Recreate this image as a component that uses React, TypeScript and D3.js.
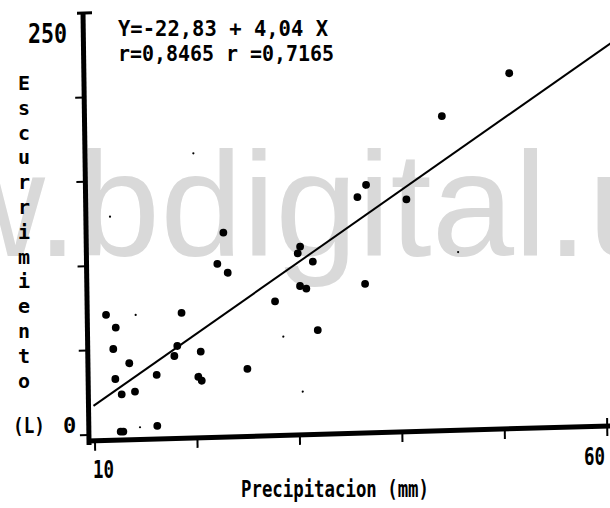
import React from "react";
import * as d3 from "d3";

// Precipitacion (mm) vs Escurrimiento (L)
const precip = [11.25, 12.18, 11.91, 13.45, 12.07, 12.67, 13.97, 16.11, 17.86, 18.16, 18.62, 20.44, 20.17, 20.5, 24.97, 27.76, 30.22, 30.83, 31.89, 36.57, 12.52, 12.78, 16.1, 22.81, 22.18, 23.18, 30.28, 30.04, 31.5, 35.94, 36.8, 40.72, 44.29, 50.92];
const runoff = [70.8, 63.1, 50.5, 41.8, 32.7, 23.5, 24.9, 34.4, 45.3, 51.2, 70.7, 47.4, 32.6, 30.2, 36.4, 75.9, 84.6, 82.9, 58.2, 84.7, 1.4, 1.4, 4.2, 117.5, 99.1, 93.7, 107.9, 104.0, 98.8, 136.3, 143.3, 134.1, 182.8, 207.0];
// faint small dots
const speckX = [19.99, 11.77, 14.14, 14.41, 28.52, 30.34, 45.69];
const speckY = [165.0, 128.9, 70.3, 3.7, 54.9, 22.0, 102.0];

const intercept = -22.83;
const slope = 4.04;
const lineRange = [9.9, 62];

const xTicks = [10, 20, 30, 40, 50, 60];
const yTicks = [0, 50, 100, 150, 200, 250];
const xTickLabels = [{ v: 10, t: "10" }, { v: 60, t: "60" }];
const equationText = "Y=-22,83 + 4,04 X";
const corrText = "r=0,8465 r =0,7165";
const yTitle = "Escurrimiento";
const yUnit = "(L)";
const xTitle = "Precipitacion (mm)";
const watermark = "w.bdigital.unal";

const FONT = "'DejaVu Sans Mono', monospace";

export default function App() {
  const x = d3.scaleLinear().domain([10, 60]).range([6, 518.2]);
  const y = d3.scaleLinear().domain([0, 250]).range([-6, -428]);
  const line = d3
    .line<number>()
    .x((d) => x(d))
    .y((d) => y(intercept + slope * d));
  const letters = yTitle.split("");
  return (
    <svg
      width={610}
      height={508}
      style={{ position: "absolute", left: 0, top: 0, background: "#fff" }}
    >
      <text
        x={-62}
        y={256}
        fontFamily="'Liberation Sans', Arial, sans-serif"
        fontSize={148}
        fill="#d9d9d9"
      >
        {watermark}
      </text>
      <g transform="translate(89,441) matrix(1,-0.029,0.014,1,0,0)">
        {/* y axis */}
        <line x1={0} y1={4} x2={0} y2={y(250)} stroke="#000" strokeWidth={5} />
        <line x1={-6} y1={y(250)} x2={9} y2={y(250)} stroke="#000" strokeWidth={3} />
        {yTicks.slice(0, -1).map((t) => (
          <line key={t} x1={-9} x2={0} y1={y(t)} y2={y(t)} stroke="#000" strokeWidth={2} />
        ))}
        {/* x axis */}
        <line x1={-2} y1={0} x2={530} y2={0} stroke="#000" strokeWidth={5} />
        {xTicks.map((t) => (
          <line
            key={t}
            x1={x(t)}
            x2={x(t)}
            y1={t === 60 ? -8 : 0}
            y2={10}
            stroke="#000"
            strokeWidth={2}
          />
        ))}
        {/* regression line */}
        <path d={line(lineRange) || ""} fill="none" stroke="#000" strokeWidth={2} />
        {/* points */}
        {precip.map((p, i) => (
          <circle key={i} cx={x(p)} cy={y(runoff[i])} r={3.9} fill="#000" />
        ))}
        {speckX.map((p, i) => (
          <circle key={"s" + i} cx={x(p)} cy={y(speckY[i])} r={1.1} fill="#000" />
        ))}
      </g>
      {/* texts */}
      <text x={28} y={43} fontFamily={FONT} fontWeight="bold" fontSize={27} textLength={39} lengthAdjust="spacingAndGlyphs">
        250
      </text>
      <text x={118} y={36} fontFamily={FONT} fontWeight="bold" fontSize={21} textLength={210} lengthAdjust="spacingAndGlyphs">
        {equationText}
      </text>
      <text x={118} y={61} fontFamily={FONT} fontWeight="bold" fontSize={21} textLength={216} lengthAdjust="spacingAndGlyphs">
        {corrText}
      </text>
      {letters.map((c, i) => (
        <text key={i} x={24} y={90 + i * 24.8} textAnchor="middle" fontFamily={FONT} fontWeight="bold" fontSize={20}>
          {c}
        </text>
      ))}
      <text x={13} y={433} fontFamily={FONT} fontWeight="bold" fontSize={22} textLength={32} lengthAdjust="spacingAndGlyphs">
        {yUnit}
      </text>
      <text x={63} y={433} fontFamily={FONT} fontWeight="bold" fontSize={22}>
        0
      </text>
      {xTickLabels.map((d) => (
        <text key={d.t} x={d.v === 10 ? 93 : 584} y={d.v === 10 ? 478 : 465} fontFamily={FONT} fontWeight="bold" fontSize={24} textLength={21} lengthAdjust="spacingAndGlyphs">
          {d.t}
        </text>
      ))}
      <text x={241} y={497} fontFamily={FONT} fontWeight="bold" fontSize={23} textLength={188} lengthAdjust="spacingAndGlyphs">
        {xTitle}
      </text>
    </svg>
  );
}
